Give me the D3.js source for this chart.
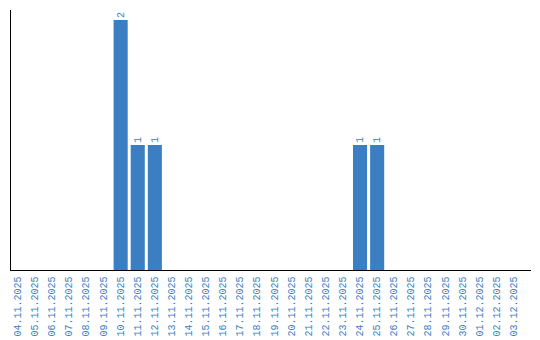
<!DOCTYPE html>
<html><head><meta charset="utf-8">
<script src="https://cdn.jsdelivr.net/npm/d3@7"></script>
<style>body{margin:0;background:#fff}</style>
</head><body>
<svg id="c" width="540" height="340"></svg>
<script>
const categories = ["04.11.2025","05.11.2025","06.11.2025","07.11.2025","08.11.2025","09.11.2025","10.11.2025","11.11.2025","12.11.2025","13.11.2025","14.11.2025","15.11.2025","16.11.2025","17.11.2025","18.11.2025","19.11.2025","20.11.2025","21.11.2025","22.11.2025","23.11.2025","24.11.2025","25.11.2025","26.11.2025","27.11.2025","28.11.2025","29.11.2025","30.11.2025","01.12.2025","02.12.2025","03.12.2025"];
const values = [0,0,0,0,0,0,2,1,1,0,0,0,0,0,0,0,0,0,0,0,1,1,0,0,0,0,0,0,0,0];

const svg = d3.select("#c");
const color = "#3b7ec2";
const font = "'Liberation Mono', monospace";
const x = d3.scaleBand().domain(categories).range([11, 521]).paddingInner(3/17).paddingOuter(0);
const y = d3.scaleLinear().domain([0, 2]).range([270, 20]);

svg.append("g").selectAll("rect").data(categories).join("rect")
  .attr("x", d => x(d)).attr("width", x.bandwidth())
  .attr("y", (d,i) => y(values[i])).attr("height", (d,i) => y(0) - y(values[i]))
  .attr("fill", color);

svg.append("g").selectAll("text").data(categories.filter((d,i)=>values[i]>0)).join("text")
  .attr("transform", d => `translate(${x(d)+x.bandwidth()/2+3},${y(values[categories.indexOf(d)])-2}) rotate(-90)`)
  .attr("font-family",font).attr("font-size","10px").attr("fill",color)
  .text(d => values[categories.indexOf(d)]);

// x axis
const xa = svg.append("g").attr("transform","translate(0,270)").call(d3.axisBottom(x).tickSize(0).tickPadding(0));
xa.select(".domain").attr("d","M10,0.5H531").attr("stroke","#000");
xa.selectAll(".tick text")
  .attr("font-family",font).attr("font-size","10px").attr("fill",color)
  .attr("text-anchor","end").attr("dy","0.3em")
  .attr("transform","translate(0,6.5) rotate(-90)").attr("x",0).attr("y",0);

// y axis line
svg.append("line").attr("x1",10.5).attr("x2",10.5).attr("y1",10).attr("y2",270).attr("stroke","#000");
</script>
</body></html>
